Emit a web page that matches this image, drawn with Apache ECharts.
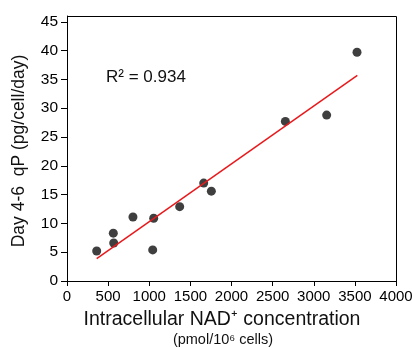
<!DOCTYPE html>
<html><head><meta charset="utf-8">
<script src="https://cdn.jsdelivr.net/npm/echarts@6/dist/echarts.min.js"></script>
<style>html,body{margin:0;padding:0;background:#fff}#c{width:412px;height:348px}</style>
</head><body><div id="c"></div>
<script>
const nadX = [361, 563, 568, 802, 1054, 1042, 1370, 1662, 1755, 2655, 3157, 3526];
const qpY = [5.2, 8.3, 6.6, 11.1, 10.9, 5.4, 12.9, 17.0, 15.6, 27.7, 28.8, 39.7];
const trendX = [361, 3530];
const trendY = [3.9, 35.7];
const xTicks = [0, 500, 1000, 1500, 2000, 2500, 3000, 3500, 4000];
const yTicks = [0, 5, 10, 15, 20, 25, 30, 35, 40, 45];
const rLabel = 'R² = 0.934';

const font = 'Liberation Sans, Arial, sans-serif';
const G = {left: 67, right: 16, top: 16, bottom: 67};
const W = 412, H = 348;
const chart = echarts.init(document.getElementById('c'), null, {renderer: 'canvas'});
const yMax = 46;
chart.setOption({
  animation: false,
  grid: Object.assign({containLabel: false, outerBoundsMode: 'none'}, G),
  xAxis: {
    type: 'value', min: xTicks[0], max: xTicks[xTicks.length - 1], interval: 500,
    axisLine: {show: true, onZero: false, lineStyle: {color: '#000'}},
    axisTick: {show: true, length: 5, lineStyle: {color: '#000'}},
    splitLine: {show: false},
    axisLabel: {color: '#000', fontSize: 15, fontFamily: font, margin: 8, hideOverlap: false,
      formatter: v => xTicks.includes(v) ? String(v) : ''}
  },
  yAxis: {
    type: 'value', min: 0, max: yMax, interval: 5,
    axisLine: {show: true, onZero: false, lineStyle: {color: '#000'}},
    axisTick: {show: true, length: 6, lineStyle: {color: '#000'}},
    splitLine: {show: false},
    axisLabel: {color: '#000', fontSize: 15.5, fontFamily: font, margin: 9, showMaxLabel: false,
      formatter: v => yTicks.includes(v) ? String(v) : ''}
  },
  series: [
    {type: 'line', data: trendX.map((x, i) => [x, trendY[i]]), symbol: 'none',
      lineStyle: {color: '#e8191c', width: 1.5}, z: 3},
    {type: 'scatter', data: nadX.map((x, i) => [x, qpY[i]]), symbolSize: 9,
      itemStyle: {color: '#3f3f3f', opacity: 1}, z: 2}
  ],
  graphic: [
    {type: 'text', x: 106, y: 77, style: {text: rLabel, font: '17px ' + font, fill: '#111', textVerticalAlign: 'middle'}},
    {type: 'text', x: 222, y: 320, style: {text: 'Intracellular NAD⁺ concentration', font: '19.5px ' + font, fill: '#111', textAlign: 'center', textVerticalAlign: 'middle'}},
    {type: 'text', x: 223, y: 340, style: {text: '(pmol/10⁶ cells)', font: '14.5px ' + font, fill: '#111', textAlign: 'center', textVerticalAlign: 'middle'}},
    {type: 'text', x: 19, y: 151, rotation: Math.PI / 2,
      style: {text: 'Day 4-6  qP (pg/cell/day)', font: '17.5px ' + font, fill: '#111', textAlign: 'center', textVerticalAlign: 'middle'}},
    {type: 'rect', id: 'frame', z: 100, silent: true,
      shape: {x: G.left + 0.5, y: G.top + 0.5, width: W - G.left - G.right, height: H - G.top - G.bottom},
      style: {stroke: '#000', lineWidth: 1, fill: 'none'}}
  ]
});
</script></body></html>
